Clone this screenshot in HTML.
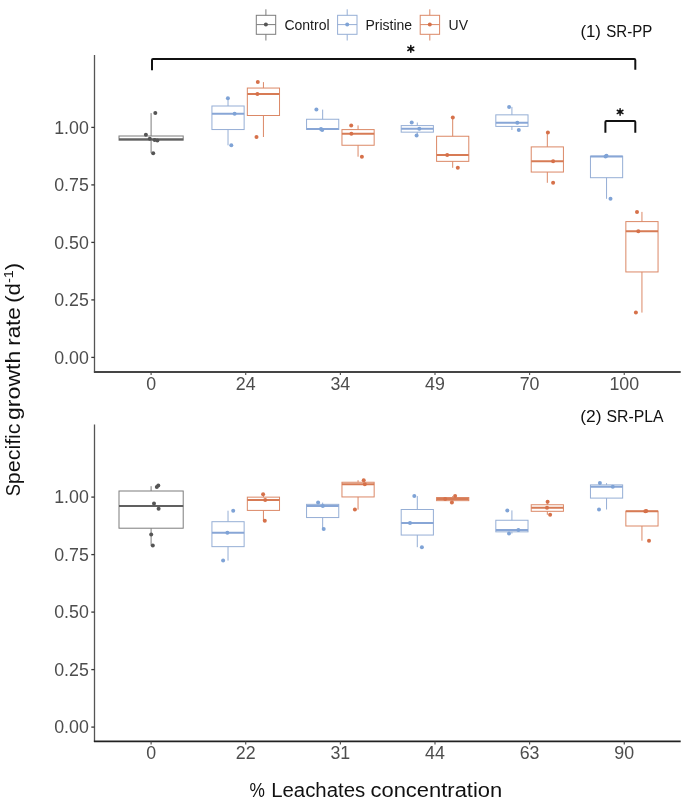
<!DOCTYPE html>
<html><head><meta charset="utf-8"><style>
html,body{margin:0;padding:0;background:#fff;}
body{width:685px;height:800px;overflow:hidden;}
svg{display:block;}
text{font-family:"Liberation Sans",sans-serif;}
.tk{font-size:17.8px;fill:#4d4d4d;}
.lg{font-size:14.0px;fill:#1a1a1a;}
.ttl{font-size:16.8px;fill:#111;}
.axt{font-size:20px;fill:#111;}
</style></head><body>
<svg width="685" height="800" viewBox="0 0 685 800">
<defs><filter id="gs" x="0" y="0" width="685" height="800" filterUnits="userSpaceOnUse"><feOffset dx="0" dy="0"/></filter></defs>
<rect width="685" height="800" fill="#fff"/>
<g filter="url(#gs)">
<line x1="265.9" y1="9.3" x2="265.9" y2="15.3" stroke="#7c7c7c" stroke-width="1.0"/>
<line x1="265.9" y1="34.3" x2="265.9" y2="40.5" stroke="#7c7c7c" stroke-width="1.0"/>
<rect x="256.30" y="15.3" width="19.4" height="19.0" fill="none" stroke="#7c7c7c" stroke-width="1.0"/>
<line x1="256.30" y1="24.6" x2="275.70" y2="24.6" stroke="#7c7c7c" stroke-width="1.0"/>
<circle cx="265.9" cy="24.6" r="2.0" fill="#555555"/>
<text x="284.4" y="29.8" class="lg">Control</text>
<line x1="347.2" y1="9.3" x2="347.2" y2="15.3" stroke="#95AED5" stroke-width="1.0"/>
<line x1="347.2" y1="34.3" x2="347.2" y2="40.5" stroke="#95AED5" stroke-width="1.0"/>
<rect x="337.60" y="15.3" width="19.4" height="19.0" fill="none" stroke="#95AED5" stroke-width="1.0"/>
<line x1="337.60" y1="24.6" x2="357.00" y2="24.6" stroke="#95AED5" stroke-width="1.0"/>
<circle cx="347.2" cy="24.6" r="2.0" fill="#7FA3D6"/>
<text x="365.4" y="29.8" class="lg">Pristine</text>
<line x1="429.8" y1="9.3" x2="429.8" y2="15.3" stroke="#DB8866" stroke-width="1.0"/>
<line x1="429.8" y1="34.3" x2="429.8" y2="40.5" stroke="#DB8866" stroke-width="1.0"/>
<rect x="420.20" y="15.3" width="19.4" height="19.0" fill="none" stroke="#DB8866" stroke-width="1.0"/>
<line x1="420.20" y1="24.6" x2="439.60" y2="24.6" stroke="#DB8866" stroke-width="1.0"/>
<circle cx="429.8" cy="24.6" r="2.0" fill="#D6714A"/>
<text x="448.6" y="29.8" class="lg">UV</text>
<line x1="94.5" y1="54.90" x2="94.5" y2="372.60" stroke="#555" stroke-width="1.3"/>
<line x1="93.9" y1="372.00" x2="680.7" y2="372.00" stroke="#454545" stroke-width="2.0"/>
<line x1="91.3" y1="357.40" x2="94.5" y2="357.40" stroke="#383838" stroke-width="1.3"/>
<text x="88.8" y="363.60" text-anchor="end" class="tk">0.00</text>
<line x1="91.3" y1="299.90" x2="94.5" y2="299.90" stroke="#383838" stroke-width="1.3"/>
<text x="88.8" y="306.10" text-anchor="end" class="tk">0.25</text>
<line x1="91.3" y1="242.40" x2="94.5" y2="242.40" stroke="#383838" stroke-width="1.3"/>
<text x="88.8" y="248.60" text-anchor="end" class="tk">0.50</text>
<line x1="91.3" y1="184.90" x2="94.5" y2="184.90" stroke="#383838" stroke-width="1.3"/>
<text x="88.8" y="191.10" text-anchor="end" class="tk">0.75</text>
<line x1="91.3" y1="127.40" x2="94.5" y2="127.40" stroke="#383838" stroke-width="1.3"/>
<text x="88.8" y="133.60" text-anchor="end" class="tk">1.00</text>
<line x1="151.10" y1="372.00" x2="151.10" y2="375.00" stroke="#4a4a4a" stroke-width="1.1"/>
<text x="151.10" y="389.80" text-anchor="middle" class="tk">0</text>
<line x1="245.73" y1="372.00" x2="245.73" y2="375.00" stroke="#4a4a4a" stroke-width="1.1"/>
<text x="245.73" y="389.80" text-anchor="middle" class="tk">24</text>
<line x1="340.36" y1="372.00" x2="340.36" y2="375.00" stroke="#4a4a4a" stroke-width="1.1"/>
<text x="340.36" y="389.80" text-anchor="middle" class="tk">34</text>
<line x1="434.99" y1="372.00" x2="434.99" y2="375.00" stroke="#4a4a4a" stroke-width="1.1"/>
<text x="434.99" y="389.80" text-anchor="middle" class="tk">49</text>
<line x1="529.62" y1="372.00" x2="529.62" y2="375.00" stroke="#4a4a4a" stroke-width="1.1"/>
<text x="529.62" y="389.80" text-anchor="middle" class="tk">70</text>
<line x1="624.25" y1="372.00" x2="624.25" y2="375.00" stroke="#4a4a4a" stroke-width="1.1"/>
<text x="624.25" y="389.80" text-anchor="middle" class="tk">100</text>
<line x1="94.5" y1="424.60" x2="94.5" y2="742.00" stroke="#555" stroke-width="1.3"/>
<line x1="93.9" y1="741.40" x2="680.7" y2="741.40" stroke="#222" stroke-width="1.6"/>
<line x1="91.3" y1="727.10" x2="94.5" y2="727.10" stroke="#383838" stroke-width="1.3"/>
<text x="88.8" y="733.30" text-anchor="end" class="tk">0.00</text>
<line x1="91.3" y1="669.60" x2="94.5" y2="669.60" stroke="#383838" stroke-width="1.3"/>
<text x="88.8" y="675.80" text-anchor="end" class="tk">0.25</text>
<line x1="91.3" y1="612.10" x2="94.5" y2="612.10" stroke="#383838" stroke-width="1.3"/>
<text x="88.8" y="618.30" text-anchor="end" class="tk">0.50</text>
<line x1="91.3" y1="554.60" x2="94.5" y2="554.60" stroke="#383838" stroke-width="1.3"/>
<text x="88.8" y="560.80" text-anchor="end" class="tk">0.75</text>
<line x1="91.3" y1="497.10" x2="94.5" y2="497.10" stroke="#383838" stroke-width="1.3"/>
<text x="88.8" y="503.30" text-anchor="end" class="tk">1.00</text>
<line x1="151.10" y1="741.40" x2="151.10" y2="744.40" stroke="#4a4a4a" stroke-width="1.1"/>
<text x="151.10" y="759.20" text-anchor="middle" class="tk">0</text>
<line x1="245.73" y1="741.40" x2="245.73" y2="744.40" stroke="#4a4a4a" stroke-width="1.1"/>
<text x="245.73" y="759.20" text-anchor="middle" class="tk">22</text>
<line x1="340.36" y1="741.40" x2="340.36" y2="744.40" stroke="#4a4a4a" stroke-width="1.1"/>
<text x="340.36" y="759.20" text-anchor="middle" class="tk">31</text>
<line x1="434.99" y1="741.40" x2="434.99" y2="744.40" stroke="#4a4a4a" stroke-width="1.1"/>
<text x="434.99" y="759.20" text-anchor="middle" class="tk">44</text>
<line x1="529.62" y1="741.40" x2="529.62" y2="744.40" stroke="#4a4a4a" stroke-width="1.1"/>
<text x="529.62" y="759.20" text-anchor="middle" class="tk">63</text>
<line x1="624.25" y1="741.40" x2="624.25" y2="744.40" stroke="#4a4a4a" stroke-width="1.1"/>
<text x="624.25" y="759.20" text-anchor="middle" class="tk">90</text>
<line x1="151.10" y1="113.10" x2="151.10" y2="136.00" stroke="#7c7c7c" stroke-width="1.0"/>
<line x1="151.10" y1="140.20" x2="151.10" y2="153.10" stroke="#7c7c7c" stroke-width="1.0"/>
<rect x="119.00" y="136.00" width="64.20" height="4.20" fill="none" stroke="#7c7c7c" stroke-width="1.0"/>
<line x1="119.00" y1="139.30" x2="183.20" y2="139.30" stroke="#606060" stroke-width="2.0"/>
<circle cx="155.30" cy="112.90" r="2.0" fill="#555555"/>
<circle cx="145.90" cy="134.80" r="2.0" fill="#555555"/>
<circle cx="149.80" cy="138.70" r="2.0" fill="#555555"/>
<circle cx="154.60" cy="140.10" r="2.0" fill="#555555"/>
<circle cx="157.40" cy="140.40" r="2.0" fill="#555555"/>
<circle cx="153.20" cy="153.30" r="2.0" fill="#555555"/>
<line x1="228.03" y1="98.20" x2="228.03" y2="106.00" stroke="#95AED5" stroke-width="1.0"/>
<line x1="228.03" y1="129.55" x2="228.03" y2="145.30" stroke="#95AED5" stroke-width="1.0"/>
<rect x="211.93" y="106.00" width="32.20" height="23.55" fill="none" stroke="#95AED5" stroke-width="1.0"/>
<line x1="211.93" y1="113.80" x2="244.13" y2="113.80" stroke="#88A6D6" stroke-width="2.0"/>
<circle cx="227.90" cy="98.20" r="2.0" fill="#7FA3D6"/>
<circle cx="234.60" cy="113.80" r="2.0" fill="#7FA3D6"/>
<circle cx="231.30" cy="145.30" r="2.0" fill="#7FA3D6"/>
<line x1="263.43" y1="82.10" x2="263.43" y2="88.05" stroke="#DB8866" stroke-width="1.0"/>
<line x1="263.43" y1="115.50" x2="263.43" y2="137.00" stroke="#DB8866" stroke-width="1.0"/>
<rect x="247.33" y="88.05" width="32.20" height="27.45" fill="none" stroke="#DB8866" stroke-width="1.0"/>
<line x1="247.33" y1="94.00" x2="279.53" y2="94.00" stroke="#D77B55" stroke-width="2.0"/>
<circle cx="257.80" cy="82.10" r="2.0" fill="#D6714A"/>
<circle cx="257.40" cy="94.00" r="2.0" fill="#D6714A"/>
<circle cx="256.50" cy="137.00" r="2.0" fill="#D6714A"/>
<line x1="322.66" y1="109.60" x2="322.66" y2="119.25" stroke="#95AED5" stroke-width="1.0"/>
<line x1="322.66" y1="129.45" x2="322.66" y2="130.00" stroke="#95AED5" stroke-width="1.0"/>
<rect x="306.56" y="119.25" width="32.20" height="10.20" fill="none" stroke="#95AED5" stroke-width="1.0"/>
<line x1="306.56" y1="128.90" x2="338.76" y2="128.90" stroke="#88A6D6" stroke-width="2.0"/>
<circle cx="316.40" cy="109.60" r="2.0" fill="#7FA3D6"/>
<circle cx="321.00" cy="128.90" r="2.0" fill="#7FA3D6"/>
<circle cx="322.20" cy="130.00" r="2.0" fill="#7FA3D6"/>
<line x1="358.06" y1="125.40" x2="358.06" y2="129.60" stroke="#DB8866" stroke-width="1.0"/>
<line x1="358.06" y1="145.25" x2="358.06" y2="156.70" stroke="#DB8866" stroke-width="1.0"/>
<rect x="341.96" y="129.60" width="32.20" height="15.65" fill="none" stroke="#DB8866" stroke-width="1.0"/>
<line x1="341.96" y1="133.80" x2="374.16" y2="133.80" stroke="#D77B55" stroke-width="2.0"/>
<circle cx="351.20" cy="125.40" r="2.0" fill="#D6714A"/>
<circle cx="351.40" cy="133.80" r="2.0" fill="#D6714A"/>
<circle cx="361.90" cy="156.70" r="2.0" fill="#D6714A"/>
<line x1="417.29" y1="122.50" x2="417.29" y2="125.60" stroke="#95AED5" stroke-width="1.0"/>
<line x1="417.29" y1="132.15" x2="417.29" y2="135.60" stroke="#95AED5" stroke-width="1.0"/>
<rect x="401.19" y="125.60" width="32.20" height="6.55" fill="none" stroke="#95AED5" stroke-width="1.0"/>
<line x1="401.19" y1="128.70" x2="433.39" y2="128.70" stroke="#88A6D6" stroke-width="2.0"/>
<circle cx="411.70" cy="122.50" r="2.0" fill="#7FA3D6"/>
<circle cx="419.30" cy="128.70" r="2.0" fill="#7FA3D6"/>
<circle cx="416.60" cy="135.60" r="2.0" fill="#7FA3D6"/>
<line x1="452.69" y1="117.60" x2="452.69" y2="136.25" stroke="#DB8866" stroke-width="1.0"/>
<line x1="452.69" y1="161.35" x2="452.69" y2="167.80" stroke="#DB8866" stroke-width="1.0"/>
<rect x="436.59" y="136.25" width="32.20" height="25.10" fill="none" stroke="#DB8866" stroke-width="1.0"/>
<line x1="436.59" y1="154.90" x2="468.79" y2="154.90" stroke="#D77B55" stroke-width="2.0"/>
<circle cx="452.80" cy="117.60" r="2.0" fill="#D6714A"/>
<circle cx="447.20" cy="154.90" r="2.0" fill="#D6714A"/>
<circle cx="457.80" cy="167.80" r="2.0" fill="#D6714A"/>
<line x1="511.92" y1="106.90" x2="511.92" y2="114.85" stroke="#95AED5" stroke-width="1.0"/>
<line x1="511.92" y1="126.40" x2="511.92" y2="130.00" stroke="#95AED5" stroke-width="1.0"/>
<rect x="495.82" y="114.85" width="32.20" height="11.55" fill="none" stroke="#95AED5" stroke-width="1.0"/>
<line x1="495.82" y1="122.80" x2="528.02" y2="122.80" stroke="#88A6D6" stroke-width="2.0"/>
<circle cx="509.10" cy="106.90" r="2.0" fill="#7FA3D6"/>
<circle cx="517.30" cy="122.80" r="2.0" fill="#7FA3D6"/>
<circle cx="518.80" cy="130.00" r="2.0" fill="#7FA3D6"/>
<line x1="547.32" y1="132.50" x2="547.32" y2="146.90" stroke="#DB8866" stroke-width="1.0"/>
<line x1="547.32" y1="172.05" x2="547.32" y2="182.80" stroke="#DB8866" stroke-width="1.0"/>
<rect x="531.22" y="146.90" width="32.20" height="25.15" fill="none" stroke="#DB8866" stroke-width="1.0"/>
<line x1="531.22" y1="161.30" x2="563.42" y2="161.30" stroke="#D77B55" stroke-width="2.0"/>
<circle cx="547.90" cy="132.50" r="2.0" fill="#D6714A"/>
<circle cx="553.10" cy="161.30" r="2.0" fill="#D6714A"/>
<circle cx="553.10" cy="182.80" r="2.0" fill="#D6714A"/>
<line x1="606.55" y1="155.80" x2="606.55" y2="156.20" stroke="#95AED5" stroke-width="1.0"/>
<line x1="606.55" y1="177.70" x2="606.55" y2="198.80" stroke="#95AED5" stroke-width="1.0"/>
<rect x="590.45" y="156.20" width="32.20" height="21.50" fill="none" stroke="#95AED5" stroke-width="1.0"/>
<line x1="590.45" y1="156.60" x2="622.65" y2="156.60" stroke="#88A6D6" stroke-width="2.0"/>
<circle cx="606.50" cy="155.80" r="2.0" fill="#7FA3D6"/>
<circle cx="605.50" cy="156.60" r="2.0" fill="#7FA3D6"/>
<circle cx="610.50" cy="198.80" r="2.0" fill="#7FA3D6"/>
<line x1="641.95" y1="211.90" x2="641.95" y2="221.60" stroke="#DB8866" stroke-width="1.0"/>
<line x1="641.95" y1="271.95" x2="641.95" y2="312.60" stroke="#DB8866" stroke-width="1.0"/>
<rect x="625.85" y="221.60" width="32.20" height="50.35" fill="none" stroke="#DB8866" stroke-width="1.0"/>
<line x1="625.85" y1="231.30" x2="658.05" y2="231.30" stroke="#D77B55" stroke-width="2.0"/>
<circle cx="637.00" cy="211.90" r="2.0" fill="#D6714A"/>
<circle cx="638.30" cy="231.30" r="2.0" fill="#D6714A"/>
<circle cx="635.90" cy="312.60" r="2.0" fill="#D6714A"/>
<line x1="151.10" y1="486.20" x2="151.10" y2="491.00" stroke="#7c7c7c" stroke-width="1.0"/>
<line x1="151.10" y1="528.20" x2="151.10" y2="545.60" stroke="#7c7c7c" stroke-width="1.0"/>
<rect x="119.00" y="491.00" width="64.20" height="37.20" fill="none" stroke="#7c7c7c" stroke-width="1.0"/>
<line x1="119.00" y1="506.00" x2="183.20" y2="506.00" stroke="#606060" stroke-width="2.0"/>
<circle cx="156.80" cy="487.00" r="2.0" fill="#555555"/>
<circle cx="158.30" cy="485.60" r="2.0" fill="#555555"/>
<circle cx="154.00" cy="503.50" r="2.0" fill="#555555"/>
<circle cx="158.60" cy="508.80" r="2.0" fill="#555555"/>
<circle cx="151.20" cy="534.60" r="2.0" fill="#555555"/>
<circle cx="152.80" cy="545.50" r="2.0" fill="#555555"/>
<line x1="228.03" y1="510.70" x2="228.03" y2="521.70" stroke="#95AED5" stroke-width="1.0"/>
<line x1="228.03" y1="546.65" x2="228.03" y2="560.60" stroke="#95AED5" stroke-width="1.0"/>
<rect x="211.93" y="521.70" width="32.20" height="24.95" fill="none" stroke="#95AED5" stroke-width="1.0"/>
<line x1="211.93" y1="532.70" x2="244.13" y2="532.70" stroke="#88A6D6" stroke-width="2.0"/>
<circle cx="233.20" cy="510.70" r="2.0" fill="#7FA3D6"/>
<circle cx="227.40" cy="532.70" r="2.0" fill="#7FA3D6"/>
<circle cx="223.10" cy="560.60" r="2.0" fill="#7FA3D6"/>
<line x1="263.43" y1="494.20" x2="263.43" y2="497.15" stroke="#DB8866" stroke-width="1.0"/>
<line x1="263.43" y1="510.40" x2="263.43" y2="520.70" stroke="#DB8866" stroke-width="1.0"/>
<rect x="247.33" y="497.15" width="32.20" height="13.25" fill="none" stroke="#DB8866" stroke-width="1.0"/>
<line x1="247.33" y1="500.10" x2="279.53" y2="500.10" stroke="#D77B55" stroke-width="2.0"/>
<circle cx="263.10" cy="494.20" r="2.0" fill="#D6714A"/>
<circle cx="265.20" cy="500.10" r="2.0" fill="#D6714A"/>
<circle cx="264.80" cy="520.70" r="2.0" fill="#D6714A"/>
<line x1="322.66" y1="502.60" x2="322.66" y2="504.35" stroke="#95AED5" stroke-width="1.0"/>
<line x1="322.66" y1="517.55" x2="322.66" y2="529.00" stroke="#95AED5" stroke-width="1.0"/>
<rect x="306.56" y="504.35" width="32.20" height="13.20" fill="none" stroke="#95AED5" stroke-width="1.0"/>
<line x1="306.56" y1="506.10" x2="338.76" y2="506.10" stroke="#88A6D6" stroke-width="2.0"/>
<circle cx="318.10" cy="502.60" r="2.0" fill="#7FA3D6"/>
<circle cx="322.80" cy="506.10" r="2.0" fill="#7FA3D6"/>
<circle cx="323.70" cy="529.00" r="2.0" fill="#7FA3D6"/>
<line x1="358.06" y1="480.20" x2="358.06" y2="482.25" stroke="#DB8866" stroke-width="1.0"/>
<line x1="358.06" y1="496.95" x2="358.06" y2="509.60" stroke="#DB8866" stroke-width="1.0"/>
<rect x="341.96" y="482.25" width="32.20" height="14.70" fill="none" stroke="#DB8866" stroke-width="1.0"/>
<line x1="341.96" y1="484.30" x2="374.16" y2="484.30" stroke="#D77B55" stroke-width="2.0"/>
<circle cx="363.70" cy="480.20" r="2.0" fill="#D6714A"/>
<circle cx="364.80" cy="484.30" r="2.0" fill="#D6714A"/>
<circle cx="354.90" cy="509.60" r="2.0" fill="#D6714A"/>
<line x1="417.29" y1="496.10" x2="417.29" y2="509.50" stroke="#95AED5" stroke-width="1.0"/>
<line x1="417.29" y1="535.05" x2="417.29" y2="547.20" stroke="#95AED5" stroke-width="1.0"/>
<rect x="401.19" y="509.50" width="32.20" height="25.55" fill="none" stroke="#95AED5" stroke-width="1.0"/>
<line x1="401.19" y1="522.90" x2="433.39" y2="522.90" stroke="#88A6D6" stroke-width="2.0"/>
<circle cx="414.30" cy="496.10" r="2.0" fill="#7FA3D6"/>
<circle cx="410.00" cy="522.90" r="2.0" fill="#7FA3D6"/>
<circle cx="421.90" cy="547.20" r="2.0" fill="#7FA3D6"/>
<line x1="452.69" y1="496.10" x2="452.69" y2="497.50" stroke="#DB8866" stroke-width="1.0"/>
<line x1="452.69" y1="500.65" x2="452.69" y2="502.40" stroke="#DB8866" stroke-width="1.0"/>
<rect x="436.59" y="497.50" width="32.20" height="3.15" fill="none" stroke="#DB8866" stroke-width="1.0"/>
<line x1="436.59" y1="498.90" x2="468.79" y2="498.90" stroke="#D77B55" stroke-width="2.0"/>
<circle cx="455.10" cy="496.10" r="2.0" fill="#D6714A"/>
<circle cx="445.20" cy="498.90" r="2.0" fill="#D6714A"/>
<circle cx="451.90" cy="502.40" r="2.0" fill="#D6714A"/>
<line x1="511.92" y1="510.40" x2="511.92" y2="520.25" stroke="#95AED5" stroke-width="1.0"/>
<line x1="511.92" y1="531.85" x2="511.92" y2="533.60" stroke="#95AED5" stroke-width="1.0"/>
<rect x="495.82" y="520.25" width="32.20" height="11.60" fill="none" stroke="#95AED5" stroke-width="1.0"/>
<line x1="495.82" y1="530.10" x2="528.02" y2="530.10" stroke="#88A6D6" stroke-width="2.0"/>
<circle cx="507.30" cy="510.40" r="2.0" fill="#7FA3D6"/>
<circle cx="518.40" cy="530.10" r="2.0" fill="#7FA3D6"/>
<circle cx="509.00" cy="533.60" r="2.0" fill="#7FA3D6"/>
<line x1="547.32" y1="501.70" x2="547.32" y2="504.75" stroke="#DB8866" stroke-width="1.0"/>
<line x1="547.32" y1="511.30" x2="547.32" y2="514.80" stroke="#DB8866" stroke-width="1.0"/>
<rect x="531.22" y="504.75" width="32.20" height="6.55" fill="none" stroke="#DB8866" stroke-width="1.0"/>
<line x1="531.22" y1="507.80" x2="563.42" y2="507.80" stroke="#D77B55" stroke-width="2.0"/>
<circle cx="547.60" cy="501.70" r="2.0" fill="#D6714A"/>
<circle cx="547.00" cy="507.80" r="2.0" fill="#D6714A"/>
<circle cx="550.10" cy="514.80" r="2.0" fill="#D6714A"/>
<line x1="606.55" y1="483.10" x2="606.55" y2="484.90" stroke="#95AED5" stroke-width="1.0"/>
<line x1="606.55" y1="498.10" x2="606.55" y2="509.50" stroke="#95AED5" stroke-width="1.0"/>
<rect x="590.45" y="484.90" width="32.20" height="13.20" fill="none" stroke="#95AED5" stroke-width="1.0"/>
<line x1="590.45" y1="486.70" x2="622.65" y2="486.70" stroke="#88A6D6" stroke-width="2.0"/>
<circle cx="599.90" cy="483.10" r="2.0" fill="#7FA3D6"/>
<circle cx="612.80" cy="486.70" r="2.0" fill="#7FA3D6"/>
<circle cx="599.00" cy="509.50" r="2.0" fill="#7FA3D6"/>
<line x1="641.95" y1="526.00" x2="641.95" y2="540.70" stroke="#DB8866" stroke-width="1.0"/>
<rect x="625.85" y="511.20" width="32.20" height="14.80" fill="none" stroke="#DB8866" stroke-width="1.0"/>
<line x1="625.85" y1="511.30" x2="658.05" y2="511.30" stroke="#D77B55" stroke-width="2.0"/>
<circle cx="646.30" cy="511.10" r="2.0" fill="#D6714A"/>
<circle cx="645.30" cy="511.30" r="2.0" fill="#D6714A"/>
<circle cx="649.00" cy="540.70" r="2.0" fill="#D6714A"/>
<path d="M152.0,70.3 L152.0,60.0 Q152.0,59.0 153.0,59.0 L634.3,59.0 Q635.3,59.0 635.3,60.0 L635.3,69.8" fill="none" stroke="#111" stroke-width="2"/>
<path d="M410.80,45.40L410.80,52.20M407.86,47.10L413.74,50.50M413.74,47.10L407.86,50.50" stroke="#111" stroke-width="1.5" stroke-linecap="round" fill="none"/><circle cx="410.8" cy="48.8" r="1.35" fill="#111"/>
<path d="M605.4,132.8 L605.4,122.0 Q605.4,121.0 606.4,121.0 L634.3,121.0 Q635.3,121.0 635.3,122.0 L635.3,132.8" fill="none" stroke="#111" stroke-width="2"/>
<path d="M620.10,108.60L620.10,115.20M617.24,110.25L622.96,113.55M622.96,110.25L617.24,113.55" stroke="#111" stroke-width="1.45" stroke-linecap="round" fill="none"/><circle cx="620.1" cy="111.9" r="1.30" fill="#111"/>
<text x="580.40" y="36.90" class="ttl" textLength="20.60" lengthAdjust="spacingAndGlyphs">(1)</text>
<text x="606.30" y="36.90" class="ttl" textLength="46.00" lengthAdjust="spacingAndGlyphs">SR-PP</text>
<text x="580.30" y="421.60" class="ttl" textLength="21.30" lengthAdjust="spacingAndGlyphs">(2)</text>
<text x="606.60" y="421.60" class="ttl" textLength="57.00" lengthAdjust="spacingAndGlyphs">SR-PLA</text>
<text x="249.60" y="796.70" class="axt" textLength="15.40" lengthAdjust="spacingAndGlyphs">%</text>
<text x="271.20" y="796.70" class="axt" textLength="94.00" lengthAdjust="spacingAndGlyphs">Leachates</text>
<text x="370.50" y="796.70" class="axt" textLength="131.70" lengthAdjust="spacingAndGlyphs">concentration</text>
<text transform="translate(19.7,496.20) rotate(-90)" x="0" y="0" class="axt" textLength="12.20" lengthAdjust="spacingAndGlyphs">S</text>
<text transform="translate(19.7,484.20) rotate(-90)" x="0" y="0" class="axt" textLength="60.80" lengthAdjust="spacingAndGlyphs">pecific</text>
<text transform="translate(19.7,420.00) rotate(-90)" x="0" y="0" class="axt" textLength="69.40" lengthAdjust="spacingAndGlyphs">growth</text>
<text transform="translate(19.7,345.80) rotate(-90)" x="0" y="0" class="axt" textLength="38.60" lengthAdjust="spacingAndGlyphs">rate</text>
<text transform="translate(19.7,302.80) rotate(-90)" x="0" y="0" class="axt" textLength="40.00" lengthAdjust="spacingAndGlyphs">(d<tspan dy="-7" font-size="13">-1</tspan><tspan dy="7">)</tspan></text>
</g>
</svg>
</body></html>
